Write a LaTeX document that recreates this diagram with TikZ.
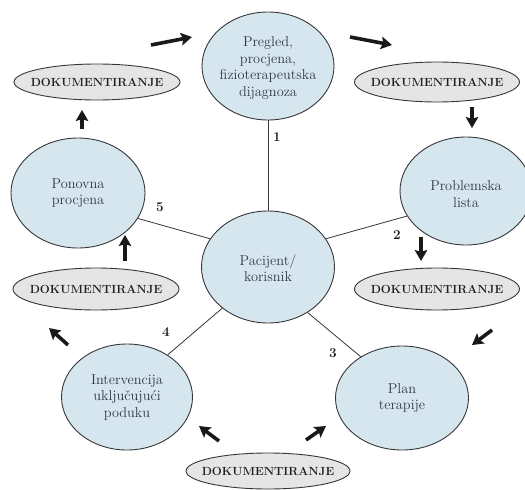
\documentclass[tikz,border=0pt]{standalone}
\usepackage{fontspec}
\usetikzlibrary{shapes.geometric,arrows.meta}
\definecolor{circfill}{RGB}{214,230,239}
\definecolor{docfill}{RGB}{229,229,229}
\definecolor{edgecol}{RGB}{55,55,55}
\definecolor{ctxt}{RGB}{45,56,68}
\begin{document}
\begin{tikzpicture}[x=1pt,y=-1pt,
  circ/.style={ellipse, draw=edgecol, line width=0.9pt, fill=circfill, inner sep=0pt},
  doc/.style={ellipse, draw=edgecol, line width=0.9pt, fill=docfill, inner sep=0pt},
  ctext/.style={align=center, text=ctxt, font=\fontsize{14.3}{16.5}\selectfont, inner sep=0pt},
  dtext/.style={text=black!88, font=\bfseries\fontsize{11.8}{13}\selectfont, inner sep=0pt},
  num/.style={font=\bfseries\fontsize{13.5}{15}\selectfont, text=black!88, inner sep=0pt},
  link/.style={draw=edgecol, line width=0.8pt},
  arr/.style={line width=3.6pt, draw=black!90, -{Stealth[length=11pt,width=12.5pt,inset=2pt]}}
]
\clip (0,0) rectangle (525,490);
\fill[white] (0,0) rectangle (525,490);

% circles
\node[circ, minimum width=132pt, minimum height=108pt] (pregled) at (268,66) {};
\node[ctext] (pregledT) at (268,68) {Pregled,\\procjena,\\fizioterapeutska\\dijagnoza};
\node[circ, minimum width=133pt, minimum height=112pt] (pacijent) at (268,267) {};
\node[ctext] (pacijentT) at (268,268) {Pacijent/\\korisnik};
\node[circ, minimum width=132pt, minimum height=108pt] (problem) at (466,191) {};
\node[ctext] (problemT) at (466,194) {Problemska\\lista};
\node[circ, minimum width=134pt, minimum height=110pt] (ponovna) at (78,193) {};
\node[ctext] (ponovnaT) at (78,193) {Ponovna\\procjena};
\node[circ, minimum width=131pt, minimum height=106pt] (interv) at (127,397) {};
\node[ctext] (intervT) at (127,397) {Intervencija\\uključujući\\poduku};
\node[circ, minimum width=133pt, minimum height=104pt] (plan) at (402,398) {};
\node[ctext] (planT) at (402,398) {Plan\\terapije};

% documentation ellipses
\node[doc, minimum width=166pt, minimum height=36pt] (docA) at (97,82) {};
\node[dtext] (docAT) at (docA) {DOKUMENTIRANJE};
\node[doc, minimum width=165pt, minimum height=40pt] (docB) at (437,82) {};
\node[dtext] (docBT) at (docB) {DOKUMENTIRANJE};
\node[doc, minimum width=165pt, minimum height=42pt] (docC) at (437,289) {};
\node[dtext] (docCT) at (docC) {DOKUMENTIRANJE};
\node[doc, minimum width=166pt, minimum height=42pt] (docD) at (96,289) {};
\node[dtext] (docDT) at (docD) {DOKUMENTIRANJE};
\node[doc, minimum width=164pt, minimum height=36pt] (docE) at (268,471) {};
\node[dtext] (docET) at (docE) {DOKUMENTIRANJE};

% spokes
\draw[link] (pacijent.north) -- (pregled.south);
\draw[link] (pacijent.26) -- (problem.203);
\draw[link] (pacijent.154) -- (ponovna.-23);
\draw[link] (pacijent.222) -- (interv.46);
\draw[link] (pacijent.-49) -- (plan.135);

% numbers
\node[num] (n1) at (277,137) {1};
\node[num] (n2) at (397,235) {2};
\node[num] (n3) at (333,353) {3};
\node[num] (n4) at (166,332) {4};
\node[num] (n5) at (160,207) {5};

% arrows
\coordinate (a1s) at (151,45);  \coordinate (a1e) at (192,37);
\coordinate (a2s) at (350,37);  \coordinate (a2e) at (392,45);
\coordinate (a3s) at (472,107); \coordinate (a3e) at (472,128);
\coordinate (a4s) at (421,237); \coordinate (a4e) at (421,261);
\coordinate (a5s) at (492,330); \coordinate (a5e) at (472,345);
\coordinate (a6s) at (306,440); \coordinate (a6e) at (326,426);
\coordinate (a7s) at (219,441); \coordinate (a7e) at (199,426);
\coordinate (a8s) at (68,345);  \coordinate (a8e) at (49,328);
\coordinate (a9s) at (125,261); \coordinate (a9e) at (125,235);
\coordinate (a10s) at (82,129); \coordinate (a10e) at (82,110);
\foreach \i in {1,...,10} {\draw[arr] (a\i s) -- (a\i e);}
\end{tikzpicture}
\end{document}
